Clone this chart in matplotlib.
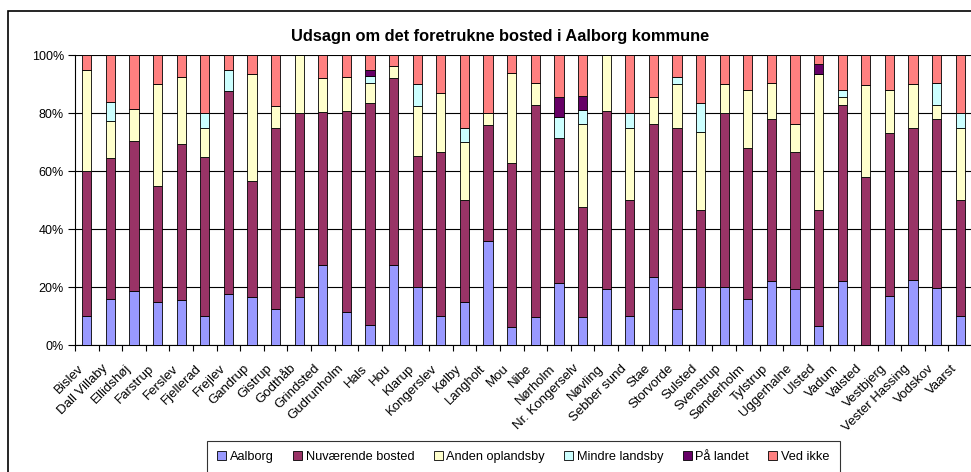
import matplotlib
matplotlib.use("Agg")
import matplotlib.pyplot as plt
import matplotlib.transforms as mtransforms
from matplotlib.patches import Patch, Rectangle
import numpy as np

plt.rcParams['font.family'] = ['Liberation Sans', 'DejaVu Sans']

# byer (kategorier)
byer = ['Bislev', 'Dall Villaby', 'Ellidshøj', 'Farstrup', 'Ferslev', 'Fjellerad',
        'Frejlev', 'Gandrup', 'Gistrup', 'Godthåb', 'Grindsted', 'Gudrunholm',
        'Hals', 'Hou', 'Klarup', 'Kongerslev', 'Kølby', 'Langholt', 'Mou', 'Nibe',
        'Nørholm', 'Nr. Kongerselv', 'Nøvling', 'Sebber sund', 'Stae', 'Storvorde',
        'Sulsted', 'Svenstrup', 'Sønderholm', 'Tylstrup', 'Uggerhalne', 'Ulsted',
        'Vadum', 'Valsted', 'Vestbjerg', 'Vester Hassing', 'Vodskov', 'Vaarst']

# andele i procent
aalborg = [10, 16, 18.5, 15, 15.4, 10, 17.5, 16.7, 12.5, 16.7, 27.7, 11.5, 6.9, 27.7,
           20, 10, 15, 36, 6.2, 9.8, 21.4, 9.5, 19.2, 10, 23.6, 12.5, 20, 20, 16, 22,
           19.2, 6.5, 22, 0, 17, 22.5, 19.5, 10]
nuvaerende = [50, 48.4, 52, 40, 53.8, 55, 70, 40, 62.5, 63.3, 52.5, 69.3, 76.4, 64.3,
              45.2, 56.4, 35, 40, 56.4, 73.1, 50, 38.1, 61.6, 40, 52.6, 62.5, 26.7, 60,
              52, 56, 47.2, 40.2, 60.9, 57.8, 56.1, 52.5, 58.5, 40]
anden = [35, 13, 11, 35, 23.1, 10, 0, 36.7, 7.5, 20, 11.8, 11.5, 6.9, 4.1, 17.3, 20.4,
         20, 4, 31.1, 7.3, 0, 28.6, 19.2, 25, 9.4, 15, 26.7, 10, 20, 12.5, 9.9, 46.7,
         2.5, 31.9, 14.7, 15, 4.9, 25]
mindre = [0, 6.5, 0, 0, 0, 5, 7.5, 0, 0, 0, 0, 0, 2.4, 0, 7.5, 0, 5, 0, 0, 0, 7.1, 4.8,
          0, 5, 0, 2.5, 10, 0, 0, 0, 0, 0, 2.4, 0, 0, 0, 7.3, 5]
paa_landet = [0, 0, 0, 0, 0, 0, 0, 0, 0, 0, 0, 0, 2.3, 0, 0, 0, 0, 0, 0, 0, 7.1, 4.8,
              0, 0, 0, 0, 0, 0, 0, 0, 0, 3.4, 0, 0, 0, 0, 0, 0]
ved_ikke = [5, 16.1, 18.5, 10, 7.7, 20, 5, 6.6, 17.5, 0, 8, 7.7, 5.1, 3.9, 10, 13.2, 25,
            20, 6.3, 9.8, 14.3, 14.3, 0, 20, 14.4, 7.5, 16.7, 10, 12, 9.5, 23.7, 3.2,
            12.2, 10.3, 12.2, 10, 9.8, 20]

serier = ['Aalborg', 'Nuværende bosted', 'Anden oplandsby', 'Mindre landsby',
          'På landet', 'Ved ikke']
farver = ['#9999FF', '#993366', '#FFFFCC', '#CCFFFF', '#660066', '#FF8080']

data = np.array([aalborg, nuvaerende, anden, mindre, paa_landet, ved_ikke], dtype=float)
data = data / data.sum(axis=0) * 100  # 100% stablet

W, H = 971, 472
fig = plt.figure(figsize=(W / 100, H / 100), dpi=100)
ax = fig.add_axes([75 / W, 1 - 345 / H, 897 / W, 290 / H])

x = np.arange(len(byer))
bund = np.zeros(len(byer))
for navn, vals, farve in zip(serier, data, farver):
    ax.bar(x, vals, 0.39, bottom=bund, color=farve, edgecolor='black',
           linewidth=0.6, zorder=3)
    bund += vals

ax.set_xlim(-0.5, len(byer) - 0.5)
ax.set_ylim(0, 100)
ax.set_yticks(np.arange(0, 101, 20))
ax.set_yticklabels([f'{v}%' for v in range(0, 101, 20)], fontsize=9)
ax.yaxis.grid(True, color='black', linewidth=0.8, zorder=0)
ax.tick_params(axis='y', length=5, width=0.8, pad=3)

ax.set_xticks(x)
ax.set_xticklabels(byer, rotation=45, ha='right', va='center',
                   rotation_mode='anchor', fontsize=9.5)
ax.tick_params(axis='x', which='major', length=0, pad=12)
ax.set_xticks(np.arange(-0.5, len(byer)), minor=True)
ax.tick_params(axis='x', which='minor', length=4, width=0.8, direction='out')

# flyt etiketterne lidt mod venstre og ned, som i Excel
skift = mtransforms.ScaledTranslation(-0.05, -0.05, fig.dpi_scale_trans)
for lbl in ax.get_xticklabels():
    lbl.set_transform(lbl.get_transform() + skift)

for s in ['top', 'right']:
    ax.spines[s].set_visible(False)
for s in ['left', 'bottom']:
    ax.spines[s].set_linewidth(0.8)

fig.text(500 / W, 1 - 37 / H, 'Udsagn om det foretrukne bosted i Aalborg kommune',
         ha='center', va='center', fontsize=11.8, fontweight='bold')

handles = [Patch(facecolor=f, edgecolor='black', linewidth=0.6) for f in farver]
leg = fig.legend(handles, serier, loc='upper left', ncol=6,
                 bbox_to_anchor=(207 / W, 1 - 441 / H), fontsize=9.2,
                 frameon=True, fancybox=False, edgecolor='black',
                 handlelength=0.7, handleheight=0.7, handletextpad=0.3,
                 columnspacing=1.5, borderpad=0.8, borderaxespad=0)
leg.get_frame().set_linewidth(0.8)

fig.patches.append(Rectangle((8 / W, -0.1), 1.2, 1.1 - 11 / H, transform=fig.transFigure,
                             fill=False, edgecolor='black', linewidth=1.2))

fig.savefig('out.png', dpi=100)
